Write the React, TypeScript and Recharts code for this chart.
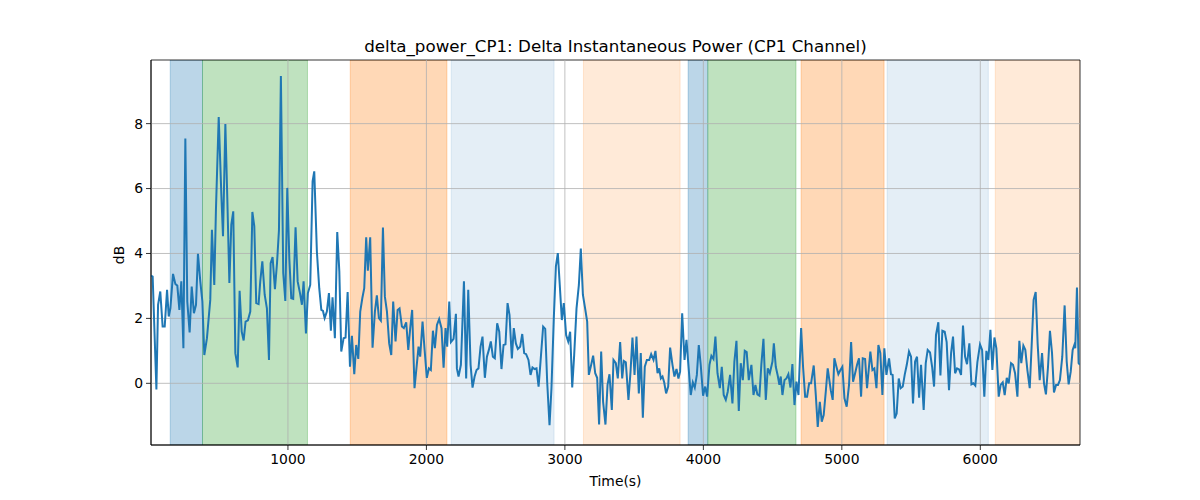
import { Line, LineChart, ReferenceArea, ReferenceLine, XAxis, YAxis } from "recharts";

// sample times (s) and delta power (dB)
const timeS = [
  11, 23, 50, 62, 78, 95, 110, 127, 139, 151,
  170, 187, 201, 216, 230, 245, 259, 273, 290, 305,
  321, 336, 350, 367, 382, 396, 415, 439, 451, 468,
  480, 500, 519, 531, 548, 562, 577, 591, 605, 620,
  637, 651, 666, 680, 694, 711, 728, 743, 757, 771,
  788, 800, 815, 832, 848, 863, 875, 889, 906, 921,
  935, 949, 966, 981, 995, 1010, 1024, 1038, 1055, 1070,
  1087,
  1101, 1113, 1130, 1144, 1161, 1178, 1190, 1209, 1226, 1241,
  1253, 1265, 1281, 1296, 1310, 1322, 1339, 1356, 1371, 1385,
  1402, 1416, 1431, 1448, 1462, 1479, 1493, 1508, 1522, 1537,
  1551, 1565, 1577, 1594, 1611, 1628, 1642, 1657, 1671, 1686,
  1700, 1715, 1731, 1746, 1760, 1777, 1792, 1806, 1823, 1837,
  1854, 1869, 1883, 1897, 1914, 1929, 1943, 1955, 1972, 1986,
  2003, 2018, 2032, 2047, 2061, 2076, 2092, 2109, 2124, 2138,
  2150, 2165, 2177, 2196, 2213,
  2220, 2232, 2249, 2271, 2287, 2302, 2319, 2333, 2348, 2362,
  2376, 2391, 2405, 2422, 2437, 2451, 2465, 2480, 2494, 2511,
  2526, 2542, 2557, 2571, 2586, 2600, 2617, 2631, 2646, 2660,
  2677, 2692, 2706, 2720, 2737, 2752, 2766, 2781, 2795, 2810,
  2824, 2843, 2858, 2872, 2889, 2903, 2920, 2935, 2949, 2963,
  2978, 2992, 3009, 3024, 3038, 3053, 3067, 3084, 3101, 3115,
  3130, 3146, 3161, 3173, 3190, 3204, 3219, 3233, 3247, 3262,
  3276, 3293, 3308, 3322,
  3339, 3351, 3368, 3382, 3399, 3414, 3426, 3440, 3459, 3474,
  3488, 3503, 3517, 3534, 3548, 3563, 3577, 3592, 3609, 3623,
  3640, 3654, 3669, 3681, 3693, 3705, 3717, 3731, 3746, 3760,
  3777, 3791, 3806, 3820, 3832, 3847, 3864, 3878, 3892, 3909,
  3924, 3938, 3953, 3967, 3981, 3998, 4013, 4027, 4044, 4058,
  4073, 4087, 4102, 4119, 4133, 4147, 4162, 4176, 4193, 4210,
  4224, 4239, 4256, 4270, 4285, 4299, 4313, 4328, 4347, 4362,
  4376, 4390, 4405, 4419, 4434, 4451, 4465, 4480, 4499,
  4509, 4523, 4537, 4549, 4559, 4571, 4586, 4600, 4614, 4629,
  4643, 4658, 4672, 4687, 4706, 4720, 4735, 4749, 4764, 4778,
  4797, 4812, 4826, 4841, 4855, 4869, 4884, 4898, 4920, 4934,
  4946, 4961, 4975, 4990, 5004, 5019, 5035, 5052, 5067, 5081,
  5096, 5110, 5124, 5139, 5151, 5168, 5182, 5194, 5206, 5221,
  5235, 5250, 5264, 5278, 5293, 5307, 5322, 5341, 5355, 5367,
  5382, 5396, 5411, 5425, 5440, 5454, 5469, 5485, 5500, 5514,
  5529, 5543, 5558, 5572, 5591, 5606, 5620,
  5637, 5652, 5666, 5680, 5697, 5712, 5726, 5743, 5757, 5774,
  5789, 5803, 5818, 5832, 5847, 5861, 5875, 5890, 5904, 5921,
  5936, 5950, 5964, 5979, 5998, 6013, 6029, 6044, 6058, 6073,
  6087, 6102, 6116, 6133, 6147, 6162, 6176, 6191, 6205, 6222,
  6236, 6251, 6268, 6282, 6296, 6311, 6325, 6340, 6357, 6371,
  6385, 6400, 6414, 6429, 6446, 6460, 6474, 6489, 6503, 6518,
  6532, 6547, 6561, 6575, 6592, 6609, 6624, 6638, 6653, 6667,
  6679, 6686, 6698, 6710, 6720,
];

const deltaDb = [
  3.32, 3.29, -0.19, 2.42, 2.83, 1.75, 1.75, 2.88, 2.06, 2.31,
  3.37, 3.06, 3.01, 2.26, 3.14, 1.08, 7.54, 2.52, 1.57, 2.98,
  2.16, 2.42, 3.99, 3.14, 2.52, 0.87, 1.39, 2.57, 4.73, 3.03,
  5.35, 8.2, 5.81, 4.53, 7.99, 5.71, 3.09, 4.89, 5.3, 0.93,
  0.49, 2.85, 1.59, 1.32, 1.9, 1.94, 2.21, 5.28, 4.84, 2.47,
  2.44, 3.14, 3.76, 2.73, 2.31, 0.72, 3.7, 3.89, 2.9, 3.7,
  4.71, 9.47, 3.4, 2.54, 6.02, 3.84, 2.62, 2.6, 4.81, 3.14,
  2.78,
  2.42, 3.14, 1.54, 2.78, 3.03, 6.22, 6.53, 4.06, 2.93, 2.26,
  2.23, 2.01, 2.21, 2.78, 1.62, 2.65, 1.39, 4.66, 3.45, 0.98,
  1.39, 1.41, 2.81, 0.51, 1.46, 0.28, 1.18, 0.75, 2.21, 2.62,
  2.93, 4.5, 3.47, 4.5, 1.1, 2.21, 2.71, 2.01, 1.93, 4.8,
  2.67, 2.21, 1.23, 0.87, 2.52, 1.29, 2.26, 2.31, 1.75, 1.7,
  1.88, 1.03, 1.7, 2.26, -0.15, 0.51, 1.13, 0.82, 1.9, 1.08,
  0.17, 0.46, 0.41, 1.62, 1.08, 1.8, 1.98, 1.7, 0.48, 1.7,
  1.13, 2.52, 1.27, 1.37, 2.14,
  0.46, 0.21, 0.57, 3.14, 0.15, 2.88, 0.57, -0.13, 0.21, 0.41,
  0.46, 1.13, 1.44, 0.17, 0.82, 1.03, 1.29, 0.82, 0.77, 1.85,
  1.59, 0.44, 1.18, 1.2, 2.47, 2.11, 0.77, 1.7, 1.23, 1.06,
  1.13, 1.52, 0.93, 0.9, 0.72, 0.26, 0.49, 0.44, 0.46, -0.1,
  0.67, 1.75, 1.68, 0.05, -1.29, -0.15, 2.01, 3.6, 4.01, 3.03,
  1.95, 2.47, 1.49, 1.29, 1.59, -0.13, 0.87, 2.31, 3.03, 4.15,
  2.73, 2.31, 1.9, 0.26, 0.57, 0.85, 0.31, 0.17, -1.27, 0.98,
  -0.57, -1.27, -0.05, 0.28,
  -0.82, 0.72, 0.62, 0.15, 1.27, 0.15, 0.69, 0.65, -0.51, 0.36,
  1.41, 0.26, 1.44, -0.31, 0.93, -1.06, 0.51, 0.72, 0.72, 0.9,
  0.72, 1.0, 0.31, 0.46, 0.15, 0.21, 0.03, -0.31, -0.1, 1.1,
  0.57, 0.21, 0.44, 0.15, 0.36, 2.16, 0.72, 1.34, 0.57, -0.36,
  0.03, -0.13, 0.26, 1.18, 0.57, -0.38, -0.1, -0.41, 0.57, 0.85,
  0.75, 1.44, 0.31, -0.15, 0.51, -0.36, -0.51, -0.26, 0.26, -0.62,
  0.67, 1.31, -0.85, 0.62, 0.1, 1.0, 0.96, 0.1, 0.57, -0.36,
  -0.05, -0.34, -0.38, 0.59, 1.37, -0.51, 0.46, 0.31, 0.67,
  1.23, 0.51, 0.24, -0.05, 0.21, -0.36, 0.1, 0.15, 0.28, -0.13,
  0.59, -0.67, 0.05, -0.36, 1.7, 0.51, -0.41, -0.41, 0.0, 0.0,
  0.55, -0.36, -1.34, -0.57, -1.18, -0.98, -0.26, 0.46, -0.21, -0.51,
  0.77, 0.51, 0.28, 0.41, 0.51, -0.46, -0.72, -0.05, 1.27, 0.05,
  0.31, 0.57, 0.77, -0.41, 0.77, 0.75, -0.15, 0.41, 0.98, 0.41,
  0.46, -0.15, 1.18, 0.93, -0.36, 1.08, 0.26, 0.77, 0.28, 0.26,
  -1.08, -0.93, 0.15, -0.15, -0.1, 0.26, 0.57, 0.98, 0.82, -0.62,
  0.67, 0.82, -0.44, 0.57, -0.82, 0.62, 1.03,
  0.95, 0.51, -0.1, 1.49, 1.88, 0.24, 1.62, 1.59, 1.27, -0.21,
  0.93, 1.44, 0.31, 0.46, 0.43, 0.26, 1.78, 0.82, 0.59, 1.23,
  -0.03, 0.0, -0.07, 0.65, 1.2, 1.03, -0.41, 1.0, 0.72, 1.65,
  0.41, 1.41, 1.08, -0.41, -0.05, 0.03, -0.36, 0.17, 0.0, 0.62,
  0.57, 0.31, -0.41, 1.31, 0.62, 1.16, 1.03, 0.41, -0.15, 1.18,
  2.57, 2.81, 1.23, 0.1, 0.93, 0.0, -0.34, 0.51, 1.62, 0.93,
  -0.28, -0.05, -0.05, 0.1, 0.82, 2.4, 0.67, -0.03, 0.36, 1.03,
  1.18, 1.08, 2.95, 0.62, 0.57,
];

// shaded phases
const bandStart = [150, 383, 1450, 2179, 3134, 3890, 4032, 4706, 5327, 6108];
const bandEnd = [383, 1141, 2148, 2922, 3832, 4032, 4669, 5305, 6058, 6720];
const bandKind = ["blue", "green", "orange", "paleBlue", "paleOrange", "blue", "green", "orange", "paleBlue", "paleOrange"];

const xTicks = [1000, 2000, 3000, 4000, 5000, 6000];
const yTicks = [0, 2, 4, 6, 8];
const X_DOMAIN: [number, number] = [11, 6720];
const Y_DOMAIN: [number, number] = [-1.9, 9.96];

const kindStyle: Record<string, { fill: string; opacity: number }> = {
  blue: { fill: "#1f77b4", opacity: 0.3 },
  green: { fill: "#2ca02c", opacity: 0.3 },
  orange: { fill: "#ff7f0e", opacity: 0.3 },
  paleBlue: { fill: "#1f77b4", opacity: 0.12 },
  paleOrange: { fill: "#ff7f0e", opacity: 0.16 },
};

const FONT = "'DejaVu Sans', sans-serif";
const tickStyle = { fontSize: 13.9, fill: "#000", fontFamily: FONT };

export default function App() {
  const n = Math.min(timeS.length, deltaDb.length);
  const data = timeS.slice(0, n).map((t, i) => ({ t, db: deltaDb[i] }));

  return (
    <div style={{ position: "absolute", left: 0, top: 0, width: 1200, height: 500, background: "#fff", fontFamily: FONT, color: "#000" }}>
      <LineChart width={1200} height={500} data={data} margin={{ top: 60, right: 120, bottom: 0, left: 0 }}>
        <XAxis
          type="number"
          dataKey="t"
          domain={X_DOMAIN}
          ticks={xTicks}
          allowDataOverflow
          height={55}
          tickSize={5}
          tickMargin={4}
          tick={tickStyle}
          tickLine={{ stroke: "#000", strokeWidth: 0.8 }}
          axisLine={{ stroke: "#000", strokeWidth: 0.8 }}
        />
        <YAxis
          type="number"
          domain={Y_DOMAIN}
          ticks={yTicks}
          allowDataOverflow
          width={151}
          tickSize={5}
          tickMargin={3}
          tick={tickStyle}
          tickLine={{ stroke: "#000", strokeWidth: 0.8 }}
          axisLine={{ stroke: "#000", strokeWidth: 0.8 }}
        />
        {bandStart.map((s, i) => {
          const st = kindStyle[bandKind[i]];
          return (
            <ReferenceArea
              key={`band-${i}`}
              x1={s}
              x2={bandEnd[i]}
              fill={st.fill}
              fillOpacity={st.opacity}
              stroke={st.fill}
              strokeOpacity={st.opacity}
              strokeWidth={1}
              ifOverflow="hidden"
            />
          );
        })}
        {xTicks.map((x) => (
          <ReferenceLine key={`gx-${x}`} x={x} stroke="#b0b0b0" strokeWidth={0.8} />
        ))}
        {yTicks.map((y) => (
          <ReferenceLine key={`gy-${y}`} y={y} stroke="#b0b0b0" strokeWidth={0.8} />
        ))}
        <Line
          type="linear"
          dataKey="db"
          stroke="#1f77b4"
          strokeWidth={2}
          dot={false}
          isAnimationActive={false}
        />
        <ReferenceArea
          x1={X_DOMAIN[0]}
          x2={X_DOMAIN[1]}
          y1={Y_DOMAIN[0]}
          y2={Y_DOMAIN[1]}
          fill="none"
          stroke="#000"
          strokeWidth={0.8}
        />
      </LineChart>
      <div style={{ position: "absolute", left: 151, width: 929, top: 36, lineHeight: "20px", fontSize: 16.7, textAlign: "center", whiteSpace: "nowrap" }}>
        delta_power_CP1: Delta Instantaneous Power (CP1 Channel)
      </div>
      <div style={{ position: "absolute", left: 151, width: 929, top: 471, lineHeight: "20px", fontSize: 13.9, textAlign: "center" }}>
        Time(s)
      </div>
      <div style={{ position: "absolute", left: 99, top: 245, width: 40, height: 20, lineHeight: "20px", fontSize: 13.9, textAlign: "center", transform: "rotate(-90deg)" }}>
        dB
      </div>
    </div>
  );
}
